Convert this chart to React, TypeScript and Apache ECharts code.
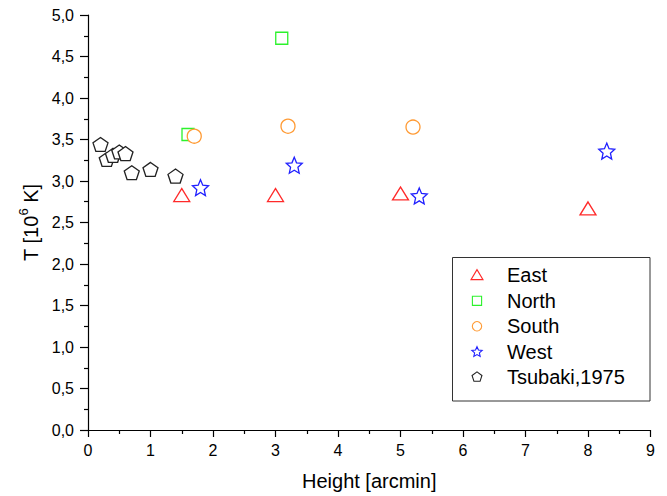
import React, { useEffect, useRef } from 'react';
import * as echarts from 'echarts';

// ---- data ----
const seriesNames = ['East', 'North', 'South', 'West', 'Tsubaki,1975'];
const eastX = [1.5, 3.0, 5.0, 8.0];
const eastY = [2.83, 2.83, 2.85, 2.67];
const northX = [1.6, 3.1];
const northY = [3.56, 4.72];
const southX = [1.7, 3.2, 5.2];
const southY = [3.54, 3.66, 3.65];
const westX = [1.8, 3.3, 5.3, 8.3];
const westY = [2.92, 3.19, 2.82, 3.36];
const tsubakiX = [0.2, 0.3, 0.4, 0.5, 0.6, 0.7, 1.0, 1.4];
const tsubakiY = [3.44, 3.26, 3.31, 3.35, 3.33, 3.10, 3.14, 3.06];

const xTitle = 'Height [arcmin]';
const yTitleParts = ['T [10', '6', ' K]'];

const colors = ['#ff2a2a', '#2cf22c', '#ff9a33', '#2020ff', '#222222'];
const FONT = 'Arial, "Liberation Sans", sans-serif';

// ---- shape helpers ----
type Pt = [number, number];
function starPts(cx: number, cy: number, R: number, r: number): Pt[] {
  const pts: Pt[] = [];
  for (let i = 0; i < 10; i++) {
    const a = ((-90 + i * 36) * Math.PI) / 180;
    const rad = i % 2 ? r : R;
    pts.push([cx + rad * Math.cos(a), cy + rad * Math.sin(a)]);
  }
  return pts;
}
function pentPts(cx: number, cy: number, R: number): Pt[] {
  const pts: Pt[] = [];
  for (let i = 0; i < 5; i++) {
    const a = ((-90 + i * 72) * Math.PI) / 180;
    pts.push([cx + R * Math.cos(a), cy + R * Math.sin(a)]);
  }
  return pts;
}
function toPath(pts: Pt[]): string {
  return 'path://M' + pts.map((p) => p[0].toFixed(3) + ' ' + p[1].toFixed(3)).join(' L ') + ' Z';
}
const starSymbol = toPath(starPts(0, 0, 10, 4.6));
const pentSymbol = toPath(pentPts(0, 0, 10));

const zip = (xs: number[], ys: number[]) => xs.map((x, i) => [x, ys[i]]);

export default function App() {
  const ref = useRef<HTMLDivElement>(null);
  useEffect(() => {
    if (!ref.current) return;
    const chart = echarts.init(ref.current, null, { renderer: 'svg' });

    const mk = (i: number, data: number[][], symbol: string, size: number | number[]) => ({
      name: seriesNames[i],
      type: 'scatter',
      data,
      symbol,
      symbolSize: size,
      itemStyle: { color: '#ffffff', borderColor: colors[i], borderWidth: 1.3, opacity: 1 },
      emphasis: { disabled: true },
    });

    // legend (drawn with graphic elements)
    const lx = 477;
    const rows = [274.6, 300.8, 326.3, 351.7, 376.7];
    const ls = (i: number) => ({ fill: '#fff', stroke: colors[i], lineWidth: 1.1 });
    const legendGraphics: any[] = [
      {
        type: 'rect',
        shape: { x: 452.5, y: 257.5, width: 197.5, height: 143.5 },
        style: { fill: '#fff', stroke: '#333', lineWidth: 1 },
        z: 100,
      },
      {
        type: 'polygon',
        shape: { points: [[lx, rows[0] - 5], [lx - 6, rows[0] + 5], [lx + 6, rows[0] + 5]] },
        style: ls(0),
        z: 101,
      },
      {
        type: 'rect',
        shape: { x: lx - 4.6, y: rows[1] - 4.6, width: 9.2, height: 9.2 },
        style: ls(1),
        z: 101,
      },
      { type: 'circle', shape: { cx: lx, cy: rows[2], r: 4.7 }, style: ls(2), z: 101 },
      { type: 'polygon', shape: { points: starPts(lx, rows[3] + 0.4, 5.4, 2.5) }, style: ls(3), z: 101 },
      { type: 'polygon', shape: { points: pentPts(lx, rows[4] + 0.4, 5.2) }, style: ls(4), z: 101 },
    ];
    seriesNames.forEach((n, i) => {
      legendGraphics.push({
        type: 'text',
        x: 507,
        y: rows[i],
        style: { text: n, fontSize: 20, fontFamily: FONT, fill: '#000', verticalAlign: 'middle', align: 'left' },
        z: 101,
      });
    });

    chart.setOption({
      animation: false,
      backgroundColor: '#fff',
      textStyle: { fontFamily: FONT },
      grid: { left: 88, right: 16.5, top: 15, bottom: 66, containLabel: false },
      xAxis: {
        type: 'value',
        min: 0,
        max: 9,
        interval: 1,
        name: xTitle,
        nameLocation: 'middle',
        nameGap: 41,
        nameTextStyle: { fontSize: 20, color: '#000', fontFamily: FONT },
        axisLine: { show: true, onZero: false, lineStyle: { color: '#000', width: 1.2 } },
        axisTick: { show: true, inside: false, length: 7, lineStyle: { color: '#000', width: 1.2 } },
        minorTick: { show: true, splitNumber: 2, length: 4, lineStyle: { color: '#000', width: 1.2 } },
        splitLine: { show: false },
        axisLabel: { fontSize: 16, color: '#000', margin: 12, fontFamily: FONT },
      },
      yAxis: {
        type: 'value',
        min: 0,
        max: 5,
        interval: 0.5,
        name: '{a|' + yTitleParts[0] + '}{s|' + yTitleParts[1] + '}{a|' + yTitleParts[2] + '}',
        nameLocation: 'middle',
        nameGap: 46,
        nameTextStyle: {
          color: '#000',
          fontFamily: FONT,
          rich: {
            a: { fontSize: 20, color: '#000', fontFamily: FONT, lineHeight: 24, verticalAlign: 'bottom' },
            s: { fontSize: 13, color: '#000', fontFamily: FONT, lineHeight: 24, verticalAlign: 'top' },
          },
        },
        axisLine: { show: true, onZero: false, lineStyle: { color: '#000', width: 1.2 } },
        axisTick: { show: true, inside: false, length: 8, lineStyle: { color: '#000', width: 1.2 } },
        minorTick: { show: true, splitNumber: 2, length: 4, lineStyle: { color: '#000', width: 1.2 } },
        splitLine: { show: false },
        axisLabel: {
          fontSize: 16,
          color: '#000',
          margin: 14,
          fontFamily: FONT,
          formatter: (v: number) => v.toFixed(1).replace('.', ','),
        },
      },
      series: [
        mk(0, zip(eastX, eastY), 'triangle', [16, 13]),
        mk(1, zip(northX, northY), 'rect', 12),
        mk(2, zip(southX, southY), 'circle', 14),
        mk(3, zip(westX, westY), starSymbol, 16),
        mk(4, zip(tsubakiX, tsubakiY), pentSymbol, [15, 14]),
      ],
      graphic: legendGraphics,
    });
    return () => chart.dispose();
  }, []);

  return <div ref={ref} style={{ width: 667, height: 496, position: 'absolute', left: 0, top: 0 }} />;
}
